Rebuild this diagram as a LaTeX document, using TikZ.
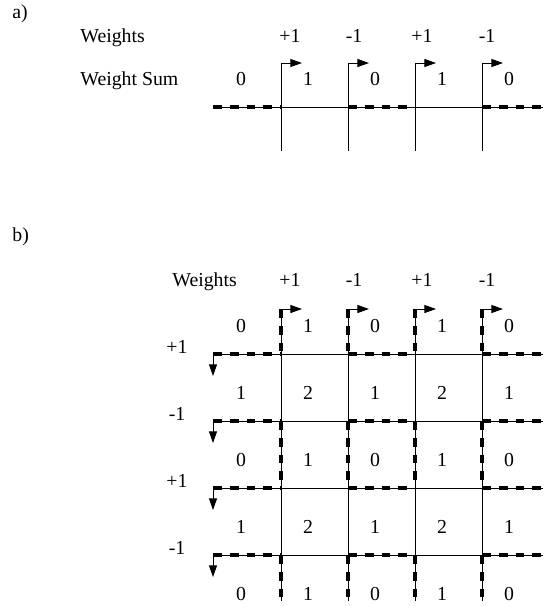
\documentclass[tikz,border=0pt]{standalone}
\usepackage{fontspec}
\setmainfont{Liberation Serif}
\usetikzlibrary{arrows.meta}
\begin{document}
\begin{tikzpicture}[x=0.5pt,y=-0.5pt,
  wire/.style={line width=0.5pt},
  zeroedge/.style={line width=1.6pt, dash pattern=on 4.4pt off 4pt},
  flow/.style={line width=0.5pt,-{Triangle[length=5.8pt,width=4pt]}},
  lbl/.style={anchor=base, inner sep=0pt, font=\fontsize{9.9}{12}\selectfont}]
\useasboundingbox (0,0) rectangle (543,606);

% ---------------- a) one row ----------------
\node[lbl, anchor=base west] (tagA) at (12,18) {a)};
\node[lbl, anchor=base west] (wA) at (80,42) {Weights};
\node[lbl, anchor=base west] (sA) at (80,85) {Weight Sum};
\foreach \w [count=\i] in {290,354,422,487} {
  \pgfmathsetmacro\t{mod(\i,2)==1 ? 1 : 0}
  \node[lbl] (wa\i) at (\w,42) {\ifnum\t=1 +1\else -1\fi};
}
\foreach \v [count=\j from 0] in {0,1,0,1,0}
  \node[lbl] (sa\j) at (241+67*\j,85) {\v};

\coordinate (aL) at (213,107);
\coordinate (aR) at (543,107);
\draw[wire] (aL) -- (aR);
\foreach \c in {0,...,3} {
  \coordinate (aB\c) at (281+67*\c,151);
  \coordinate (aH\c) at (281+67*\c,107);
  \coordinate (aT\c) at (281+67*\c,63);
  \coordinate (aA\c) at (302+67*\c,63);
  \draw[flow] (aB\c) -- (aT\c) -- (aA\c);
}
\draw[zeroedge] (aL) -- (aH0);
\draw[zeroedge] (aH1) -- (aH2);
\draw[zeroedge] (aH3) -- (aR);

% ---------------- b) grid ----------------
\node[lbl, anchor=base west] (tagB) at (12,241) {b)};
\node[lbl, anchor=base west] (wB) at (172,286) {Weights};
\foreach \w [count=\i] in {290,354,422,487} {
  \pgfmathsetmacro\t{mod(\i,2)==1 ? 1 : 0}
  \node[lbl] (wb\i) at (\w,286) {\ifnum\t=1 +1\else -1\fi};
}

% column wires with their right-pointing heads
\foreach \c in {0,...,3} {
  \coordinate (bB\c) at (281+67*\c,601);
  \coordinate (bT\c) at (281+67*\c,309);
  \coordinate (bA\c) at (302+67*\c,309);
  \draw[flow] (bB\c) -- (bT\c) -- (bA\c);
}

% row wires with their downward heads and row weights
\foreach \r in {0,...,3} {
  \pgfmathsetmacro\yy{354+67*\r}
  \coordinate (rR\r) at (543,\yy);
  \coordinate (rL\r) at (213,\yy);
  \coordinate (rD\r) at (213,\yy+22);
  \draw[flow] (rR\r) -- (rL\r) -- (rD\r);
  \node[lbl] (rw\r) at (177,\yy-1) {\ifodd\r -1\else +1\fi};
  \foreach \c in {0,...,3}
    \coordinate (x\r\c) at (281+67*\c,\yy);
  \draw[zeroedge] (rL\r) -- (x\r0);
  \draw[zeroedge] (x\r1) -- (x\r2);
  \draw[zeroedge] (x\r3) -- (rR\r);
}

% dashed column segments bounding the zero-sum cells
\foreach \c in {0,...,3} {
  \draw[zeroedge] (bT\c) -- (x0\c);
  \draw[zeroedge] (x1\c) -- (x2\c);
  \draw[zeroedge] (x3\c) -- (bB\c);
}

% running sums in each cell
\foreach \k in {0,...,4}
  \foreach \j in {0,...,4} {
    \pgfmathtruncatemacro\s{mod(\j,2) + mod(\k,2)}
    \node[lbl] (s\k\j) at (241+67*\j,332+67*\k) {\s};
  }
\end{tikzpicture}
\end{document}
